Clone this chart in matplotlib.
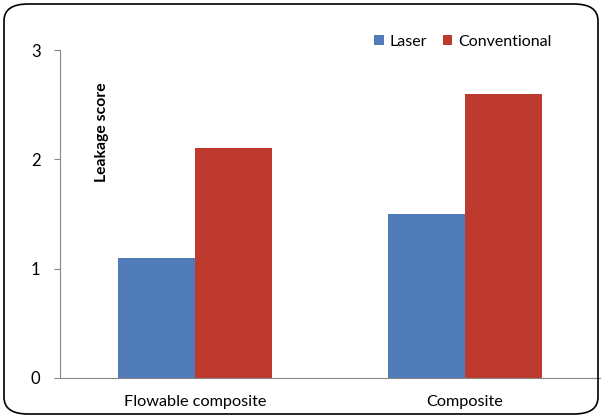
import matplotlib.pyplot as plt
import numpy as np
from matplotlib.patches import FancyBboxPatch

categories = ["Flowable composite", "Composite"]
laser = [1.1, 1.5]
conventional = [2.1, 2.6]
series_names = ["Laser", "Conventional"]
yticks = [0, 1, 2, 3]

plt.rcParams['font.family'] = ['Lato', 'DejaVu Sans']

fig = plt.figure(figsize=(6.02, 4.18), dpi=100)
ax = fig.add_axes([60 / 602, 40 / 418, 540 / 602, 328 / 418])

# outer rounded frame
frame = FancyBboxPatch((4 / 602, 4 / 418), 594 / 602, 410 / 418,
                       boxstyle="round,pad=0,rounding_size=0.04",
                       transform=fig.transFigure, fill=False,
                       edgecolor='black', linewidth=1.2, zorder=0)
fig.patches.append(frame)

x = np.arange(len(categories))
w = 0.2857
ax.bar(x - w / 2, laser, w, color='#4F7BB8', label=series_names[0])
ax.bar(x + w / 2, conventional, w, color='#BE3A2E', label=series_names[1])

ax.set_xlim(-0.5, 1.5)
ax.set_ylim(0, 3)
ax.set_yticks(yticks)
ax.set_xticks(x)
ax.set_xticklabels(categories, fontsize=11.7)
ax.tick_params(axis='y', labelsize=12, length=4, color='#888888', pad=10)
ax.tick_params(axis='x', length=0, pad=12)

for s in ['top', 'right']:
    ax.spines[s].set_visible(False)
for s in ['left', 'bottom']:
    ax.spines[s].set_color('#888888')

ax.text(0.077, 0.75, "Leakage score", transform=ax.transAxes, rotation=90,
        ha='center', va='center', fontsize=11.3, fontweight='bold')

ax.legend(loc='upper left', bbox_to_anchor=(0.555, 1.09), ncol=2, frameon=False,
          fontsize=11.5, handlelength=0.6, handleheight=0.6, handletextpad=0.35,
          columnspacing=1.0)

fig.savefig("out.png", dpi=100)
